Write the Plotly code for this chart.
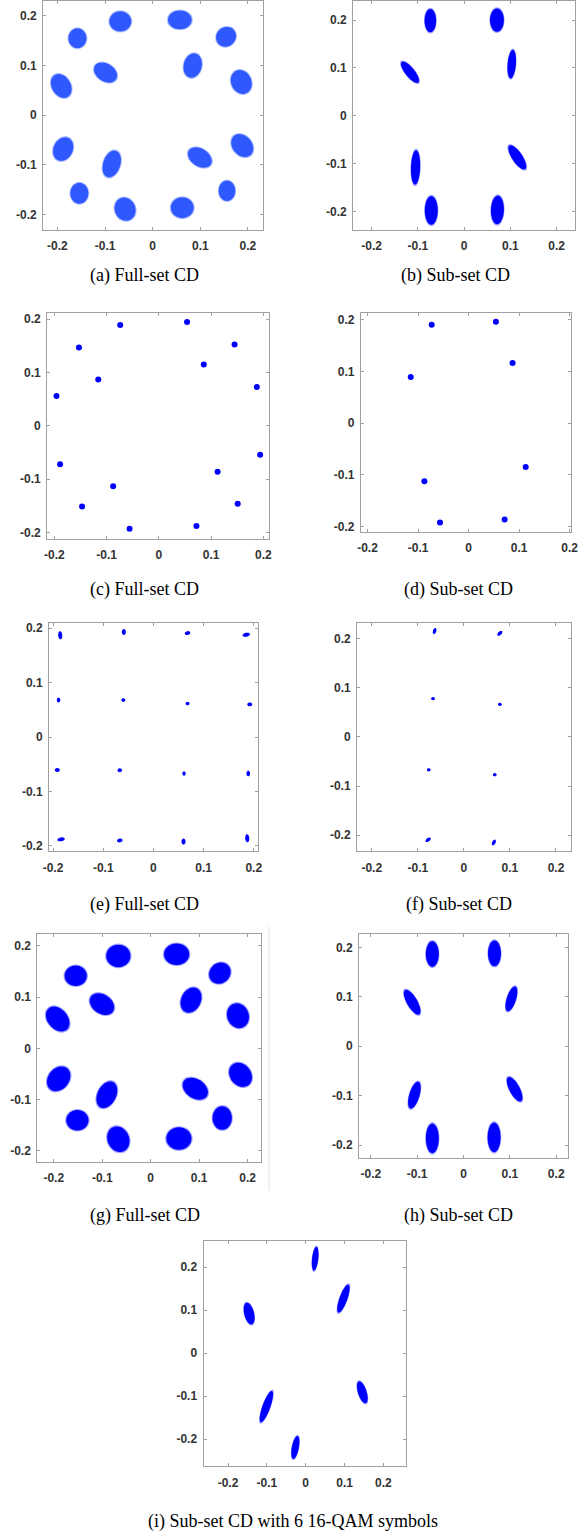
import math
import plotly.graph_objects as go

# ---------------- data ----------------
tick_vals = [-0.2, -0.1, 0, 0.1, 0.2]
tick_text = ["-0.2", "-0.1", "0", "0.1", "0.2"]

captions = ["(a) Full-set CD", "(b) Sub-set CD", "(c) Full-set CD", "(d) Sub-set CD",
            "(e) Full-set CD", "(f) Sub-set CD", "(g) Full-set CD", "(h) Sub-set CD",
            "(i) Sub-set CD with 6 16-QAM symbols"]

# (a) full-set clusters: centre, major/minor extent, tilt (deg)
a_x = [-0.068, 0.057, -0.158, 0.154, -0.099, 0.084, -0.192, 0.186,
       -0.188, 0.188, -0.086, 0.099, -0.154, 0.156, -0.058, 0.062]
a_y = [0.189, 0.192, 0.155, 0.158, 0.086, 0.100, 0.059, 0.067,
       -0.068, -0.061, -0.098, -0.085, -0.157, -0.152, -0.189, -0.186]
a_major = [0.046, 0.050, 0.040, 0.043, 0.052, 0.050, 0.052, 0.050,
           0.050, 0.052, 0.056, 0.054, 0.042, 0.041, 0.048, 0.048]
a_minor = [0.041, 0.038, 0.038, 0.039, 0.036, 0.038, 0.039, 0.042,
           0.040, 0.040, 0.036, 0.036, 0.038, 0.035, 0.043, 0.042]
a_angle = [0, 0, 90, 30, -30, 75, -55, -60, 60, -45, 70, -30, 90, 90, -60, 0]

# (b) sub-set clusters
b_x = [-0.073, 0.071, -0.117, 0.103, -0.105, 0.115, -0.071, 0.072]
b_y = [0.199, 0.200, 0.091, 0.108, -0.108, -0.087, -0.198, -0.197]
b_major = [0.049, 0.049, 0.056, 0.060, 0.072, 0.060, 0.060, 0.060]
b_minor = [0.025, 0.030, 0.020, 0.018, 0.020, 0.022, 0.028, 0.028]
b_angle = [90, 90, -50, 85, 88, -55, 90, 88]

# (c) full-set points
c_x = [-0.074, 0.054, -0.153, 0.145, 0.086, -0.116, -0.196, 0.1875,
       -0.189, 0.194, 0.1125, -0.0875, -0.147, 0.151, -0.056, 0.072]
c_y = [0.189, 0.195, 0.147, 0.1525, 0.115, 0.087, 0.056, 0.073,
       -0.072, -0.054, -0.086, -0.113, -0.151, -0.146, -0.193, -0.1875]

# (d) sub-set points
d_x = [-0.073, 0.054, 0.087, -0.1145, 0.113, -0.0875, -0.0566, 0.0713]
d_y = [0.190, 0.196, 0.116, 0.089, -0.0844, -0.112, -0.1916, -0.186]

# (e) full-set (square grid) blobs
e_x = [-0.1857, -0.059, 0.068, 0.185, -0.189, -0.060, 0.068, 0.192,
       -0.1915, -0.067, 0.061, 0.189, -0.184, -0.067, 0.060, 0.187]
e_y = [0.187, 0.193, 0.191, 0.188, 0.068, 0.068, 0.0615, 0.060,
       -0.0605, -0.061, -0.067, -0.067, -0.188, -0.190, -0.192, -0.186]
e_major = [0.015, 0.011, 0.011, 0.015, 0.009, 0.008, 0.008, 0.010,
           0.010, 0.009, 0.008, 0.010, 0.015, 0.011, 0.011, 0.015]
e_minor = [0.008, 0.008, 0.007, 0.007, 0.007, 0.006, 0.006, 0.007,
           0.007, 0.007, 0.006, 0.007, 0.007, 0.007, 0.008, 0.008]
e_angle = [95, 90, 10, 10, 90, 0, 0, 0, 0, 0, 90, 90, 10, 10, 90, 95]

# (f) sub-set blobs
f_x = [-0.0636, 0.078, -0.067, 0.078, -0.0763, 0.067, -0.0777, 0.065]
f_y = [0.2156, 0.211, 0.078, 0.0664, -0.067, -0.077, -0.2095, -0.215]
f_major = [0.013, 0.013, 0.008, 0.008, 0.008, 0.008, 0.013, 0.013]
f_minor = [0.007, 0.007, 0.006, 0.006, 0.006, 0.006, 0.007, 0.007]
f_angle = [70, 40, 0, 0, 0, 0, 35, 60]

# (g) full-set clusters
g_x = [-0.0668, 0.0535, -0.1547, 0.1427, -0.1006, 0.0832, -0.1919, 0.180,
       -0.1899, 0.1853, -0.0905, 0.092, -0.1513, 0.1475, -0.0668, 0.0582]
g_y = [0.1806, 0.1838, 0.1417, 0.1469, 0.0866, 0.0944, 0.0574, 0.0639,
       -0.0592, -0.0514, -0.0903, -0.0786, -0.1402, -0.1357, -0.1771, -0.1758]
g_major = [0.050, 0.052, 0.046, 0.046, 0.054, 0.052, 0.056, 0.050,
           0.054, 0.052, 0.056, 0.056, 0.046, 0.046, 0.052, 0.052]
g_minor = [0.044, 0.042, 0.040, 0.040, 0.038, 0.040, 0.040, 0.044,
           0.042, 0.042, 0.038, 0.038, 0.040, 0.040, 0.044, 0.044]
g_angle = [0, 0, 0, 30, -30, 60, -45, -60, 45, -45, 60, -30, 0, 90, -60, 0]

# (h) sub-set clusters
h_x = [-0.0673, 0.0668, -0.1108, 0.1033, -0.106, 0.1103, -0.0673, 0.066]
h_y = [0.1866, 0.1879, 0.0891, 0.0958, -0.099, -0.087, -0.1864, -0.1844]
h_major = [0.052, 0.052, 0.058, 0.053, 0.057, 0.056, 0.060, 0.060]
h_minor = [0.028, 0.028, 0.022, 0.020, 0.022, 0.022, 0.028, 0.028]
h_angle = [90, 90, -58, 71, 72, -60, 90, 90]

# (i) six 16-QAM symbol clusters
i_x = [0.0243, 0.0971, -0.1456, 0.1457, -0.1012, -0.0267]
i_y = [0.2193, 0.1267, 0.0919, -0.091, -0.1243, -0.2192]
i_major = [0.056, 0.070, 0.052, 0.054, 0.078, 0.055]
i_minor = [0.016, 0.020, 0.025, 0.022, 0.020, 0.018]
i_angle = [83, 68, 106, 110, 68, 78]

# ---------------- layout / styling ----------------
W, H = 587, 1536
BLUE = "#0000ff"
BLUE_A = "#3058ff"

# frame boxes in pixels: (left, right, top, bottom), axis ranges, caption pos
panels = [
    dict(box=(38, 263, 0, 229), xr=(-0.230, 0.232), yr=(-0.230, 0.230), cap=(142, 275)),
    dict(box=(355, 582, 0, 229), xr=(-0.240, 0.240), yr=(-0.238, 0.240), cap=(460, 275)),
    dict(box=(42, 269, 313, 539), xr=(-0.214, 0.211), yr=(-0.212, 0.211), cap=(142, 590)),
    dict(box=(363, 578, 313, 532), xr=(-0.213, 0.203), yr=(-0.210, 0.212), cap=(463, 590)),
    dict(box=(44, 258, 623, 852), xr=(-0.208, 0.209), yr=(-0.210, 0.210), cap=(142, 905)),
    dict(box=(359, 578, 623, 852), xr=(-0.232, 0.233), yr=(-0.233, 0.2325), cap=(463, 905)),
    dict(box=(32, 261, 935, 1163), xr=(-0.234, 0.228), yr=(-0.221, 0.223), cap=(142, 1217)),
    dict(box=(361, 575, 935, 1159), xr=(-0.2255, 0.226), yr=(-0.2256, 0.2268), cap=(463, 1217)),
    dict(box=(202, 409, 1242, 1468), xr=(-0.263, 0.258), yr=(-0.2625, 0.2616), cap=(293, 1523)),
]

cluster_sets = {
    0: (a_x, a_y, a_major, a_minor, a_angle, BLUE_A, True),
    1: (b_x, b_y, b_major, b_minor, b_angle, BLUE, True),
    4: (e_x, e_y, e_major, e_minor, e_angle, BLUE, False),
    5: (f_x, f_y, f_major, f_minor, f_angle, BLUE, False),
    6: (g_x, g_y, g_major, g_minor, g_angle, BLUE, True),
    7: (h_x, h_y, h_major, h_minor, h_angle, BLUE, True),
    8: (i_x, i_y, i_major, i_minor, i_angle, BLUE, True),
}
point_sets = {2: (c_x, c_y), 3: (d_x, d_y)}


def ellipse_path(cx, cy, major, minor, ang, scale=1.0, n=28):
    t = math.radians(ang)
    a = major / 2 * scale
    b = minor / 2 * scale
    pts = []
    for k in range(n):
        u = 2 * math.pi * k / n
        ex, ey = a * math.cos(u), b * math.sin(u)
        pts.append((cx + ex * math.cos(t) - ey * math.sin(t),
                    cy + ex * math.sin(t) + ey * math.cos(t)))
    return "M " + " L ".join(f"{px:.5f},{py:.5f}" for px, py in pts) + " Z"


fig = go.Figure()
shapes = []
annotations = []
layout = dict(width=W, height=H, margin=dict(l=0, r=0, t=0, b=0),
              paper_bgcolor="white", plot_bgcolor="white", showlegend=False)

axis_common = dict(showgrid=False, zeroline=False, showline=True, mirror="ticks",
                   linecolor="#a0a0a0", linewidth=1, ticks="inside", ticklen=3,
                   tickcolor="#a0a0a0", tickvals=tick_vals, ticktext=tick_text,
                   tickfont=dict(family="Liberation Sans, Arial", size=12,
                                 color="#333333", weight="bold"),
                   fixedrange=True)

for i, p in enumerate(panels):
    n = "" if i == 0 else str(i + 1)
    xa, ya = "x" + n, "y" + n
    l, r, t, b = p["box"]
    layout["xaxis" + n] = dict(axis_common, domain=[l / W, r / W], range=list(p["xr"]),
                               anchor=ya, ticklabelstandoff=5)
    layout["yaxis" + n] = dict(axis_common, domain=[1 - b / H, 1 - t / H], range=list(p["yr"]),
                               anchor=xa, ticklabelstandoff=3)
    cx, cy = p["cap"]
    annotations.append(dict(text=captions[i], xref="paper", yref="paper",
                            x=cx / W, y=1 - cy / H, xanchor="center", yanchor="middle",
                            showarrow=False,
                            font=dict(family="Liberation Serif, Times New Roman", size=18,
                                      color="black")))

    if i in cluster_sets:
        xs, ys, mj, mn, an, col, fuzzy = cluster_sets[i]
        layers = [(1.1, 0.35), (1.0, 1.0)] if fuzzy else [(1.0, 1.0)]
        for k in range(len(xs)):
            for sc, op in layers:
                shapes.append(dict(type="path", xref=xa, yref=ya,
                                   path=ellipse_path(xs[k], ys[k], mj[k], mn[k], an[k], sc),
                                   fillcolor=col, opacity=op, line=dict(width=0),
                                   layer="above"))
        fig.add_trace(go.Scatter(x=xs, y=ys, xaxis=xa, yaxis=ya, mode="markers",
                                 marker=dict(size=3, color=col), hoverinfo="x+y"))
    else:
        xs, ys = point_sets[i]
        fig.add_trace(go.Scatter(x=xs, y=ys, xaxis=xa, yaxis=ya, mode="markers",
                                 marker=dict(size=6, color=BLUE, line=dict(width=0)),
                                 hoverinfo="x+y"))

# faint vertical rule to the right of panel (g), as in the source image
shapes.append(dict(type="line", xref="paper", yref="paper",
                   x0=269 / W, x1=269 / W, y0=1 - 927 / H, y1=1 - 1192 / H,
                   line=dict(color="#e3e3e3", width=1)))

layout["shapes"] = shapes
layout["annotations"] = annotations
fig.update_layout(**layout)
fig.write_html("out.html")
